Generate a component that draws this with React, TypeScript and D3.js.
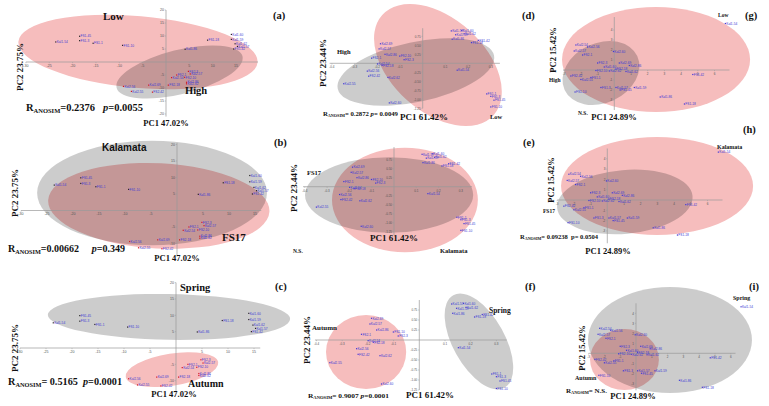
import React from 'react';
import * as d3 from 'd3';

// ---------- sample scores ----------
// column 1: PC1 47.02% / PC2 23.75%
const c1Names = ['Kal1-54','FS1-45','FS1-3','FS1-1','FS1-10','Kal1-86','FS1-18','Kal1-60','Kal1-59','Kal1-62','Kal1-57','FS1-42','FS2-3','Kal2-57','FS2-1','FS2-10','Kal2-54','Kal2-86','Kal2-62','FS2-18','Kal2-69','Kal2-56','Kal2-55','FS2-42'];
const c1X = [-23.6,-18.5,-18.5,-15.6,-9.3,4.1,8.9,14.0,14.0,14.8,15.3,14.5,4.8,5.2,2.3,4.0,1.2,4.4,4.4,0.5,-3.7,-9.1,-7.4,-2.9];
const c1Y = [7.7,9.9,8.2,7.2,6.4,4.9,8.4,10.6,8.7,7.0,6.0,5.0,-3.6,-4.6,-5.0,-5.9,-6.0,-7.8,-8.4,-8.9,-8.9,-9.4,-11.3,-11.6];
const c1Season = ['S','S','S','S','S','S','S','S','S','S','S','S','A','A','A','A','A','A','A','A','A','A','A','A'];

// column 2: PC1 61.42% / PC2 23.44%
const c2Names = ['Kal2-69','Kal2-57','Kal2-86','FS2-10','FS2-3','FS2-1','Kal2-54','FS2-18','Kal2-56','FS2-42','Kal2-62','Kal2-55','Kal2-60','Kal1-57','Kal1-60','Kal1-62','Kal1-59','Kal1-86','FS1-18','FS1-42','Kal1-54','FS1-1','FS1-3','FS1-45','FS1-10'];
const c2X = [-1.86,-1.92,-1.66,-1.01,-0.82,-2.25,-1.99,-1.79,-2.44,-2.38,-1.53,-3.48,-1.47,1.26,1.72,1.82,1.45,1.3,2.15,2.45,1.52,2.82,3.0,3.14,3.0];
const c2Y = [2.17,1.6,1.0,0.8,0.4,0.57,-0.07,-0.23,-0.87,-1.43,-1.57,-2.27,-4.4,3.6,3.65,3.27,3.17,2.67,2.3,2.55,-0.77,-3.4,-3.67,-4.1,-4.85];

// column 3: PC1 24.89% / PC2 15.42%
const c3Names = ['Kal2-54','Kal2-56','Kal2-57','FS2-1','Kal2-60','FS2-3','Kal2-69','Kal2-86','FS2-10','Kal2-62','FS2-18','Kal1-62','FS2-42','Kal2-55','FS1-1','FS1-3','Kal1-57','FS1-45','Kal1-59','FS1-10','Kal1-86','FS1-18','FS1-42','Kal1-54','Kal1-60'];
const c3X = [-2.3,-1.6,-2.4,-1.9,-0.05,-1.0,0.3,0.9,-1.1,-0.3,0.1,0.7,-2.6,-2.0,-1.4,-0.8,0.1,0.35,1.2,-2.35,2.75,4.2,4.7,6.65,-0.6];
const c3Y = [2.5,2.3,1.9,1.5,1.85,0.7,0.7,0.45,-0.05,-0.1,0.1,-0.15,-0.6,-0.95,-0.75,-1.75,-1.75,-2.0,-1.75,-2.2,-2.7,-3.4,-0.45,4.65,0.3];

// ---------- group ellipses: [cx, cy, rx, ry (data units), tilt deg]; first pink, second gray ----------
type Ell = [number, number, number, number, number];
const ellC1a: Ell[] = [[-6.0, 3.85, 25.7, 13.8, 5], [2.9, -3.85, 13.9, 8.5, -14]];
const ellC1b: Ell[] = [[-3.5, 1.4, 21.3, 12.9, 3], [-4.8, 5.3, 22.1, 15.8, 0]];
const ellC1c: Ell[] = [[-0.77, -6.6, 9.0, 4.9, -9], [-1.35, 9.5, 23.3, 7.0, 1]];
const ellC2a: Ell[] = [[0.67, -0.19, 3.3, 5.2, 42], [-0.3, -0.97, 3.52, 3.33, -12]];
const ellC2b: Ell[] = [[0.49, -1.48, 3.27, 5.8, 0], [-0.22, -0.92, 3.77, 4.2, 0]];
const ellC2c: Ell[] = [[-2.07, -1.2, 1.56, 3.7, 0], [2.32, -0.15, 2.06, 2.6, 61]];
const ellC3d: Ell[] = [[2.5, 1.05, 5.63, 5.25, 0], [-0.8, -0.3, 2.4, 3.0, -25]];
const ellC3e: Ell[] = [[2.98, 1.36, 5.75, 4.76, 0], [1.05, -0.19, 4.07, 3.1, -5]];
const ellC3f: Ell[] = [[-0.73, -0.62, 2.18, 3.05, 0], [2.15, 1.33, 5.19, 5.3, 0]];

// ---------- tick values ----------
const c1XTicks = [-30, -25, -20, -15, -10, -5, 5, 10, 15];
const c1YTicksA = [-20, -15, -10, -5, 5, 10, 15, 20];
const c1YTicksB = [-10, -5, 5, 10, 15, 20];
const c2XTicks = [-4, -3, -2, -1, 1, 2, 3];
const c2YTicks = [-5, -4, -3, -2, -1, 1, 2, 3];
const c3XTicks = [-3, -2, -1, 1, 2, 3, 4, 5, 6];
const c3YTicks = [-3, -2, -1, 1, 2, 3, 4];

const SERIF = '"Liberation Serif","Times New Roman",serif';
const SANS = '"Liberation Sans",Arial,sans-serif';
const PINK = '#f6bdbd';
const GRAYF = 'rgba(0,0,0,0.2)';
const PTBLUE = '#3b3bd6';

const datasets: any = {
  1: { xs: c1X, ys: c1Y, names: c1Names },
  2: { xs: c2X, ys: c2Y, names: c2Names },
  3: { xs: c3X, ys: c3Y, names: c3Names },
};

const fInt = (v: number) => String(v);
const fC2x = (v: number) => (v / 10).toFixed(1);
const fC2y = (v: number) => (v / 4).toFixed(2);

type Lbl = { t: string; x: number; y: number; s: number; f?: string; a?: string };
type RT = { x: number; y: number; s: number; w: number; eq: string; p: string; pv: string; it?: boolean };
type PCL = { x: number; y: number; s: number; t: string };

interface Panel {
  ds: number; ox: number; oy: number; sx: number; sy: number;
  xDom: [number, number]; yDom: [number, number];
  xt: number[]; yt: number[]; xf: (v: number) => string; yf: (v: number) => string;
  ell: Ell[]; labels: Lbl[]; r?: RT; pc1: PCL; pc2: PCL;
}

const panels: Panel[] = [
  { ds: 1, ox: 166, oy: 62, sx: 4.67, sy: 2.6, xDom: [-30, 19.7], yDom: [-21, 20], xt: c1XTicks, yt: c1YTicksA, xf: fInt, yf: fInt, ell: ellC1a,
    labels: [{ t: 'Low', x: 103, y: 20, s: 11 }, { t: 'High', x: 185, y: 94, s: 10.5 }],
    r: { x: 26, y: 111, s: 10.5, w: 117, eq: '=0.2376   ', p: 'p', pv: '=0.0055', it: true },
    pc1: { x: 166, y: 126, s: 8.5, t: 'PC1 47.02%' }, pc2: { x: 20, y: 67, s: 9, t: 'PC2 23.75%' } },
  { ds: 1, ox: 177, oy: 210.5, sx: 5.2, sy: 3.3, xDom: [-30, 16.2], yDom: [-13.5, 20.5], xt: c1XTicks, yt: c1YTicksB, xf: fInt, yf: fInt, ell: ellC1b,
    labels: [{ t: 'Kalamata', x: 102, y: 151, s: 10, f: SANS }, { t: 'FS17', x: 222, y: 241, s: 11 }],
    r: { x: 8, y: 252, s: 10.5, w: 117, eq: '=0.00662     ', p: 'p', pv: '=0.349', it: true },
    pc1: { x: 177, y: 261, s: 8.5, t: 'PC1 47.02%' }, pc2: { x: 15, y: 193, s: 9, t: 'PC2 23.75%' } },
  { ds: 1, ox: 176, oy: 348, sx: 5.2, sy: 3.27, xDom: [-30, 16.2], yDom: [-14, 20], xt: c1XTicks, yt: c1YTicksB, xf: fInt, yf: fInt, ell: ellC1c,
    labels: [{ t: 'Spring', x: 180, y: 291, s: 10.5 }, { t: 'Autumn', x: 188, y: 387, s: 10 }],
    r: { x: 8, y: 385, s: 10.5, w: 114, eq: '= 0.5165  ', p: 'p', pv: '=0.0001', it: true },
    pc1: { x: 174, y: 397, s: 8.5, t: 'PC1 47.02%' }, pc2: { x: 15, y: 348, s: 9, t: 'PC2 23.75%' } },

  { ds: 2, ox: 422.7, oy: 63.3, sx: 22.7, sy: 9, xDom: [-4.1, 3.4], yDom: [-5, 3.9], xt: c2XTicks, yt: c2YTicks, xf: fC2x, yf: fC2y, ell: ellC2a,
    labels: [{ t: '(a)', x: 273, y: 19, s: 10.5 }, { t: 'High', x: 337, y: 54, s: 6.5 }, { t: 'Low', x: 490, y: 119, s: 6.5 }],
    r: { x: 323, y: 116, s: 6.5, w: 75, eq: '= 0.2872 ', p: 'p', pv: '= 0.0049', it: true },
    pc1: { x: 424, y: 120, s: 9, t: 'PC1 61.42%' }, pc2: { x: 323, y: 63, s: 9, t: 'PC2 23.44%' } },
  { ds: 2, ox: 394, oy: 186.7, sx: 22.3, sy: 9, xDom: [-4.08, 3.5], yDom: [-5.4, 4.4], xt: c2XTicks, yt: c2YTicks, xf: fC2x, yf: fC2y, ell: ellC2b,
    labels: [{ t: '(b)', x: 274, y: 146, s: 10.5 }, { t: 'FS17', x: 307, y: 175, s: 6.5 }, { t: 'N.S.', x: 293, y: 253, s: 5.5 }, { t: 'Kalamata', x: 440, y: 253, s: 6.5 }],
    pc1: { x: 394, y: 241, s: 9, t: 'PC1 61.42%' }, pc2: { x: 294, y: 188, s: 9, t: 'PC2 23.44%' } },
  { ds: 2, ox: 419.3, oy: 340, sx: 25.7, sy: 10, xDom: [-4.06, 3.4], yDom: [-5, 4], xt: c2XTicks, yt: c2YTicks, xf: fC2x, yf: fC2y, ell: ellC2c,
    labels: [{ t: '(c)', x: 275, y: 290, s: 10.5 }, { t: 'Autumn', x: 312, y: 330, s: 7 }, { t: 'Spring', x: 489, y: 313, s: 7.5 }],
    r: { x: 308, y: 398, s: 6.8, w: 81, eq: '= 0.9007 ', p: 'p', pv: '=0.0001', it: true },
    pc1: { x: 430, y: 398, s: 9, t: 'PC1 61.42%' }, pc2: { x: 307, y: 340, s: 9, t: 'PC2 23.44%' } },

  { ds: 3, ox: 614.3, oy: 70, sx: 16.7, sy: 10, xDom: [-3.07, 6.9], yDom: [-4, 5.3], xt: c3XTicks, yt: c3YTicks, xf: fInt, yf: fInt, ell: ellC3d,
    labels: [{ t: '(d)', x: 522, y: 19, s: 10.5 }, { t: '(g)', x: 745, y: 19, s: 10.5 }, { t: 'Low', x: 718, y: 17, s: 5.5 }, { t: 'High', x: 549, y: 82, s: 5.5 }, { t: 'N.S.', x: 578, y: 115, s: 5.5 }],
    pc1: { x: 614, y: 120, s: 8.5, t: 'PC1 24.89%' }, pc2: { x: 553, y: 50, s: 8.5, t: 'PC2 15.42%' } },
  { ds: 3, ox: 607.3, oy: 200, sx: 16.7, sy: 10.3, xDom: [-3.0, 6.9], yDom: [-4.2, 5.0], xt: c3XTicks, yt: c3YTicks, xf: fInt, yf: fInt, ell: ellC3e,
    labels: [{ t: '(e)', x: 523, y: 146, s: 10.5 }, { t: '(h)', x: 743, y: 133, s: 10.5 }, { t: 'Kalamata', x: 717, y: 149, s: 6 }, { t: 'FS17', x: 543, y: 213, s: 5.5 }],
    r: { x: 520, y: 239, s: 6.3, w: 78, eq: '= 0.09238  ', p: 'p', pv: '= 0.0504', it: false },
    pc1: { x: 608, y: 254, s: 8.5, t: 'PC1 24.89%' }, pc2: { x: 551, y: 180, s: 8.5, t: 'PC2 15.42%' } },
  { ds: 3, ox: 636, oy: 353.3, sx: 15.8, sy: 10, xDom: [-3.0, 6.3], yDom: [-3.7, 5.0], xt: c3XTicks, yt: c3YTicks, xf: fInt, yf: fInt, ell: ellC3f,
    labels: [{ t: '(f)', x: 525, y: 290, s: 10.5 }, { t: '(i)', x: 749, y: 290, s: 10.5 }, { t: 'Spring', x: 733, y: 300, s: 6 }, { t: 'Autumn', x: 575, y: 380, s: 6 }],
    r: { x: 566, y: 393, s: 5.8, w: 41, eq: '= N.S.', p: '', pv: '', it: false },
    pc1: { x: 633, y: 399, s: 8.5, t: 'PC1 24.89%' }, pc2: { x: 582, y: 348, s: 8.5, t: 'PC2 15.42%' } },
];

function PanelView({ p }: { p: Panel }) {
  const x = d3.scaleLinear().domain(p.xDom).range([p.ox + p.xDom[0] * p.sx, p.ox + p.xDom[1] * p.sx]);
  const y = d3.scaleLinear().domain(p.yDom).range([p.oy - p.yDom[0] * p.sy, p.oy - p.yDom[1] * p.sy]);
  const d = datasets[p.ds];
  const fills = [PINK, GRAYF];
  const tick = p.ds === 1 ? 3.6 : 3;
  return (
    <g>
      {p.ell.map((e, i) => {
        const cx = x(e[0]), cy = y(e[1]);
        const rx = Math.abs(x(e[2]) - x(0)), ry = Math.abs(y(e[3]) - y(0));
        return <ellipse key={i} cx={cx} cy={cy} rx={rx} ry={ry} fill={fills[i]} transform={`rotate(${e[4]},${cx},${cy})`} />;
      })}
      {/* axes */}
      <line x1={x(p.xDom[0])} x2={x(p.xDom[1])} y1={y(0)} y2={y(0)} stroke="#9a9a9a" strokeWidth={0.7} />
      <line x1={x(0)} x2={x(0)} y1={y(p.yDom[0])} y2={y(p.yDom[1])} stroke="#9a9a9a" strokeWidth={0.7} />
      {p.xt.map((v) => (
        <g key={'x' + v}>
          <line x1={x(v)} x2={x(v)} y1={y(0)} y2={y(0) + 1.2} stroke="#9a9a9a" strokeWidth={0.5} />
          <text x={x(v)} y={y(0) + 4.8} fontSize={tick} textAnchor="middle" fill="#555" fontFamily={SANS}>{p.xf(v)}</text>
        </g>
      ))}
      {p.yt.map((v) => (
        <g key={'y' + v}>
          <line x1={x(0) - 1.2} x2={x(0)} y1={y(v)} y2={y(v)} stroke="#9a9a9a" strokeWidth={0.5} />
          <text x={x(0) - 2} y={y(v) + 1.2} fontSize={tick} textAnchor="end" fill="#555" fontFamily={SANS}>{p.yf(v)}</text>
        </g>
      ))}
      {/* samples */}
      {d.xs.map((xv: number, i: number) => {
        const px = x(xv), py = y(d.ys[i]);
        const mk = p.ds === 1 ? (c1Season[i] === 'S' ? '#222' : '#d01818') : PTBLUE;
        return (
          <g key={'p' + i}>
            <rect x={px - 0.6} y={py - 0.6} width={1.2} height={1.2} fill={mk} />
            <text x={px + 0.9} y={py + 1.2} fontSize={3.2} fill={PTBLUE} fontFamily={SANS}>{d.names[i]}</text>
          </g>
        );
      })}
      {p.labels.map((l, i) => (
        <text key={'l' + i} x={l.x} y={l.y} fontSize={l.s} fontWeight="bold" fontFamily={l.f || SERIF} fill="#111" textAnchor={l.a || 'start'}>{l.t}</text>
      ))}
      {p.r && (
        <text x={p.r.x} y={p.r.y} fontSize={p.r.s} fontWeight="bold" fontFamily={SERIF} fill="#111" style={{ whiteSpace: 'pre' }} textLength={p.r.w} lengthAdjust="spacingAndGlyphs">
          <tspan>R</tspan>
          <tspan fontSize={p.r.s * 0.62} dy={p.r.s * 0.22}>ANOSIM</tspan>
          <tspan dy={-p.r.s * 0.22}>{p.r.eq}</tspan>
          <tspan fontStyle={p.r.it ? 'italic' : 'normal'}>{p.r.p}</tspan>
          <tspan>{p.r.pv}</tspan>
        </text>
      )}
      <text x={p.pc1.x} y={p.pc1.y} fontSize={p.pc1.s} fontWeight="bold" fontFamily={SERIF} textAnchor="middle" fill="#111">{p.pc1.t}</text>
      <text transform={`translate(${p.pc2.x},${p.pc2.y}) rotate(-90)`} y={p.pc2.s * 0.35} fontSize={p.pc2.s} fontWeight="bold" fontFamily={SERIF} textAnchor="middle" fill="#111">{p.pc2.t}</text>
    </g>
  );
}

export default function App() {
  return (
    <svg width={769} height={406} viewBox="0 0 769 406" style={{ position: 'absolute', left: 0, top: 0, background: '#fff' }}>
      <rect width={769} height={406} fill="#fff" />
      {panels.map((p, i) => <PanelView key={i} p={p} />)}
    </svg>
  );
}
